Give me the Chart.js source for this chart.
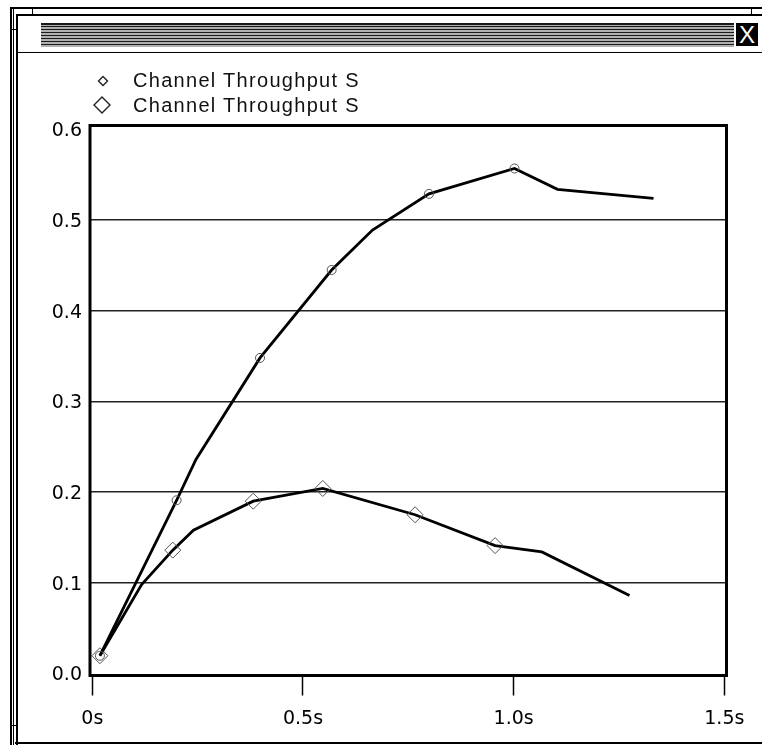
<!DOCTYPE html>
<html>
<head>
<meta charset="utf-8">
<script src="https://cdn.jsdelivr.net/npm/chart.js@4.4.1/dist/chart.umd.min.js"></script>
<style>
  html, body { margin:0; padding:0; background:#fff; }
  #wrap { position:relative; width:762px; height:745px; overflow:hidden; background:#fff; }
  .ln { position:absolute; background:#000; }
  #stripes { position:absolute; left:41px; top:23px; width:693px; height:24px;
    background: repeating-linear-gradient(to bottom, #1a1a1a 0px, #1a1a1a 1.5px, #b0b0b0 1.5px, #b0b0b0 3px); }
  #closebox { position:absolute; left:736px; top:23px; width:22px; height:23px; background:#000; color:#fff;
    font-family:"Liberation Sans", Arial, sans-serif; font-size:24px; line-height:23px; text-align:center; }
  #legend { position:absolute; left:0; top:0; }
  .lg-item { position:absolute; font-family:"Liberation Sans", Arial, sans-serif; font-size:20px; letter-spacing:1.3px; color:#111; white-space:nowrap; line-height:24px; }
  .lg-mark { position:absolute; }
  canvas { position:absolute; left:0; top:0; }
</style>
</head>
<body>
<div id="wrap">
  <!-- window frame decoration -->
  <div class="ln" style="left:10px; top:7px; width:752px; height:2px;"></div>
  <div class="ln" style="left:32px; top:7px; width:1px; height:8px;"></div>
  <div class="ln" style="left:751px; top:7px; width:1px; height:8px;"></div>
  <div class="ln" style="left:10px; top:7px; width:1.5px; height:738px;"></div>
  <div class="ln" style="left:12.5px; top:7px; width:1px; height:738px;"></div>
  <div class="ln" style="left:10px; top:29px; width:6px; height:1px;"></div>
  <div class="ln" style="left:10px; top:725px; width:6px; height:1px;"></div>
  <div class="ln" style="left:15.5px; top:13.5px; width:2.5px; height:732px;"></div>
  <div class="ln" style="left:15.5px; top:13.5px; width:747px; height:2.5px;"></div>
  <div class="ln" style="left:16px; top:51.5px; width:746px; height:1.5px;"></div>
  <div class="ln" style="left:15px; top:742px; width:747px; height:2px;"></div>
  <div id="stripes"></div>
  <div id="closebox">X</div>
  <canvas id="c" width="762" height="745"></canvas>
  <div id="legend"></div>
</div>
<script>
// ---- data ----
const seriesLabels = ['Channel Throughput S', 'Channel Throughput S'];

const s1X = [0.018, 0.200, 0.246, 0.398, 0.568, 0.665, 0.799, 1.002, 1.104, 1.332];
const s1Y = [0.0195, 0.191, 0.236, 0.348, 0.445, 0.489, 0.529, 0.557, 0.534, 0.524];
const s1Sampled = [true, true, false, true, true, false, true, true, false, false];

const s2X = [0.018, 0.117, 0.191, 0.240, 0.382, 0.547, 0.766, 0.956, 1.067, 1.275];
const s2Y = [0.0195, 0.098, 0.136, 0.158, 0.190, 0.204, 0.175, 0.141, 0.134, 0.086];
const s2Sampled = [true, false, true, false, true, true, true, true, false, false];

const xTickValues = [0, 0.5, 1.0, 1.5];
const xTickLabels = ['0s', '0.5s', '1.0s', '1.5s'];
const yTickValues = [0, 0.1, 0.2, 0.3, 0.4, 0.5, 0.6];
const yTickLabels = ['0.0', '0.1', '0.2', '0.3', '0.4', '0.5', '0.6'];

// ---- chart ----
const tickFont = { family: '"DejaVu Sans", sans-serif', size: 19 };

const boxPlugin = {
  id: 'plotBox',
  afterDatasetsDraw(chart) {
    const a = chart.chartArea, c = chart.ctx;
    c.save();
    c.strokeStyle = '#000';
    c.lineWidth = 3;
    c.strokeRect(a.left, a.top, a.right - a.left, a.bottom - a.top);
    c.restore();
  }
};

function pts(xs, ys) { return xs.map((x, i) => ({ x: x, y: ys[i] })); }

new Chart(document.getElementById('c'), {
  type: 'line',
  data: {
    datasets: [
      {
        label: seriesLabels[0],
        data: pts(s1X, s1Y),
        borderColor: '#000',
        borderWidth: 2.8,
        tension: 0,
        pointStyle: 'circle',
        pointRadius: s1Sampled.map(m => m ? 4.5 : 0),
        pointHoverRadius: s1Sampled.map(m => m ? 4.5 : 0),
        pointBorderColor: '#555',
        pointBackgroundColor: 'rgba(255,255,255,0)',
        pointBorderWidth: 1
      },
      {
        label: seriesLabels[1],
        data: pts(s2X, s2Y),
        borderColor: '#000',
        borderWidth: 2.8,
        tension: 0,
        pointStyle: 'rectRot',
        pointRadius: s2Sampled.map(m => m ? 8 : 0),
        pointHoverRadius: s2Sampled.map(m => m ? 8 : 0),
        pointBorderColor: '#555',
        pointBackgroundColor: 'rgba(255,255,255,0)',
        pointBorderWidth: 1
      }
    ]
  },
  options: {
    responsive: false,
    animation: false,
    events: [],
    layout: { padding: { top: 125.5, left: 0, right: 35.5, bottom: 0 } },
    plugins: { legend: { display: false }, tooltip: { enabled: false }, title: { display: false } },
    scales: {
      x: {
        type: 'linear',
        min: -0.0055,
        max: 1.5052,
        afterBuildTicks: s => { s.ticks = xTickValues.map(v => ({ value: v })); },
        afterFit: s => { s.height = 69.5; },
        ticks: {
          autoSkip: false, maxRotation: 0, minRotation: 0,
          padding: 12,
          color: '#000',
          font: tickFont,
          callback: v => xTickLabels[xTickValues.indexOf(v)]
        },
        grid: { drawOnChartArea: false, drawTicks: true, tickLength: 20, tickWidth: 1.5, tickColor: '#000' },
        border: { display: false }
      },
      y: {
        type: 'linear',
        min: -0.0023,
        max: 0.6044,
        afterBuildTicks: s => { s.ticks = yTickValues.map(v => ({ value: v })); },
        afterFit: s => { s.width = 90; },
        ticks: {
          padding: 8,
          labelOffset: 2,
          color: '#000',
          font: tickFont,
          callback: v => yTickLabels[yTickValues.indexOf(v)]
        },
        grid: {
          drawTicks: false,
          lineWidth: 1.6,
          color: ctx => (ctx.tick && (ctx.tick.value === 0 || ctx.tick.value === 0.6)) ? 'rgba(0,0,0,0)' : '#222'
        },
        border: { display: false }
      }
    }
  },
  plugins: [boxPlugin]
});

// ---- legend (HTML text, markers as small SVGs) ----
const legend = document.getElementById('legend');
const legendRows = [
  { y: 80, svg: '<svg width="12" height="12" viewBox="0 0 12 12"><polygon points="6,1.5 10.5,6 6,10.5 1.5,6" fill="none" stroke="#222" stroke-width="1.4"/></svg>', mx: 96.7, my: 73.3 },
  { y: 105, svg: '<svg width="20" height="20" viewBox="0 0 20 20"><polygon points="10,2 18,10 10,18 2,10" fill="none" stroke="#222" stroke-width="1.4"/></svg>', mx: 91.7, my: 95 }
];
legendRows.forEach((r, i) => {
  const m = document.createElement('div');
  m.className = 'lg-mark';
  m.style.left = r.mx + 'px';
  m.style.top = r.my + 'px';
  m.innerHTML = r.svg;
  legend.appendChild(m);
  const t = document.createElement('div');
  t.className = 'lg-item';
  t.style.left = '133px';
  t.style.top = (r.y - 12) + 'px';
  t.textContent = seriesLabels[i];
  legend.appendChild(t);
});
</script>
</body>
</html>
